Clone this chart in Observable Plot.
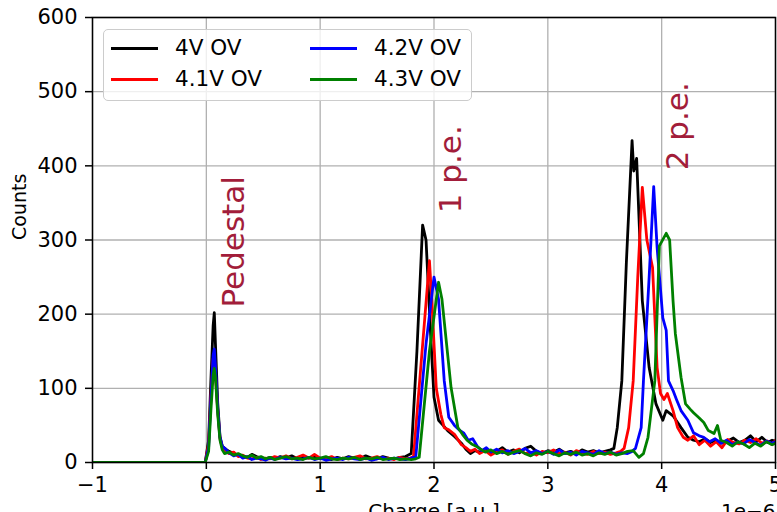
<!DOCTYPE html>
<html><head><meta charset="utf-8">
<script src="https://cdn.jsdelivr.net/npm/d3@7"></script>
<script src="https://cdn.jsdelivr.net/npm/@observablehq/plot@0.6"></script>
<style>
body{margin:0;background:#fff;overflow:hidden}
#wrap{position:relative;width:777px;height:512px;overflow:hidden}
.legend{position:absolute;left:103px;top:29px;width:369px;height:72px;background:rgba(255,255,255,0.8);border:1.3px solid #cccccc;border-radius:5px;box-sizing:border-box;font-family:"DejaVu Sans";font-size:21.5px;color:#000}
.item{position:absolute;height:26px;line-height:26px;white-space:nowrap}
.item .sw{position:absolute;left:0;top:11.5px;width:47px;height:3px}
.item .lb{position:absolute;left:64px;top:0}
</style>
</head><body>
<div id="wrap"></div>
<script>
// Series: [charge (×1e-6 a.u.), counts]
const ov40 = [[-1,0],[-0.01,0],[0.02,30],[0.04,110],[0.06,185],[0.07,202],[0.08,160],[0.10,80],[0.12,35],[0.14,22],[0.17,18],[0.2,15],[0.24,12],[0.28,10],[0.32,9],[0.36,7],[0.4,11],[0.44,8],[0.48,6],[0.52,5],[0.56,7],[0.6,5],[0.65,8],[0.7,6],[0.75,9],[0.8,5],[0.85,7],[0.9,6],[0.95,8],[1.0,5],[1.05,6],[1.1,4],[1.15,7],[1.2,5],[1.25,8],[1.3,6],[1.35,5],[1.4,9],[1.45,6],[1.5,5],[1.55,8],[1.6,6],[1.65,5],[1.7,7],[1.75,8],[1.8,12],[1.85,150],[1.9,320],[1.93,300],[1.97,174],[2.0,88],[2.04,57],[2.08,50],[2.12,43],[2.18,35],[2.24,26],[2.28,18],[2.32,12],[2.36,16],[2.4,14],[2.45,18],[2.5,12],[2.55,15],[2.6,20],[2.65,14],[2.7,17],[2.75,13],[2.8,19],[2.85,22],[2.9,15],[2.95,12],[3.0,16],[3.05,14],[3.1,18],[3.15,13],[3.2,15],[3.25,12],[3.3,17],[3.35,14],[3.4,16],[3.45,13],[3.5,15],[3.55,17],[3.58,19],[3.61,47],[3.65,110],[3.69,270],[3.74,434],[3.755,393],[3.78,410],[3.83,218],[3.89,128],[3.95,79],[4.01,57],[4.04,70],[4.1,63],[4.17,47],[4.23,34],[4.28,30],[4.33,28],[4.38,32],[4.43,27],[4.48,30],[4.53,26],[4.58,29],[4.63,33],[4.68,27],[4.73,30],[4.78,36],[4.83,28],[4.88,34],[4.93,27],[4.97,30],[5.0,29]];
const ov41 = [[-1,0],[-0.01,0],[0.02,25],[0.04,90],[0.06,140],[0.07,145],[0.08,120],[0.10,70],[0.12,32],[0.14,20],[0.17,16],[0.2,12],[0.24,14],[0.28,8],[0.32,10],[0.36,6],[0.4,5],[0.44,7],[0.48,4],[0.52,6],[0.56,5],[0.6,8],[0.65,6],[0.7,9],[0.75,5],[0.8,7],[0.85,10],[0.9,6],[0.95,11],[1.0,6],[1.05,5],[1.1,8],[1.15,4],[1.2,6],[1.25,5],[1.3,7],[1.35,9],[1.4,5],[1.45,6],[1.5,8],[1.55,5],[1.6,6],[1.65,4],[1.7,7],[1.75,5],[1.79,6],[1.82,8],[1.89,140],[1.96,272],[1.98,220],[2.02,100],[2.06,65],[2.09,47],[2.13,44],[2.18,38],[2.24,24],[2.28,20],[2.32,15],[2.36,18],[2.4,12],[2.45,16],[2.5,10],[2.55,14],[2.6,17],[2.65,11],[2.7,15],[2.75,18],[2.8,12],[2.85,14],[2.9,10],[2.95,15],[3.0,13],[3.05,17],[3.1,12],[3.15,14],[3.2,10],[3.25,16],[3.3,13],[3.35,11],[3.4,15],[3.45,12],[3.5,14],[3.55,11],[3.6,13],[3.64,15],[3.67,19],[3.71,47],[3.75,110],[3.79,250],[3.83,371],[3.87,300],[3.92,263],[3.96,128],[3.99,93],[4.02,85],[4.05,93],[4.1,70],[4.14,47],[4.19,34],[4.23,30],[4.28,36],[4.33,24],[4.38,30],[4.43,22],[4.48,28],[4.53,20],[4.58,31],[4.63,27],[4.68,25],[4.73,30],[4.78,27],[4.83,32],[4.88,26],[4.93,29],[4.97,24],[5.0,30]];
const ov42 = [[-1,0],[-0.01,0],[0.02,20],[0.04,85],[0.06,145],[0.07,153],[0.08,130],[0.10,72],[0.12,34],[0.14,22],[0.17,18],[0.2,13],[0.24,9],[0.28,11],[0.32,6],[0.36,8],[0.4,4],[0.44,6],[0.48,5],[0.52,3],[0.56,6],[0.6,4],[0.65,7],[0.7,5],[0.75,6],[0.8,4],[0.85,5],[0.9,7],[0.95,4],[1.0,6],[1.05,3],[1.1,5],[1.15,6],[1.2,4],[1.25,7],[1.3,5],[1.35,4],[1.4,6],[1.45,3],[1.5,5],[1.55,7],[1.6,4],[1.65,6],[1.7,5],[1.75,4],[1.8,6],[1.84,8],[1.93,160],[2.0,250],[2.04,220],[2.09,110],[2.13,61],[2.18,50],[2.22,44],[2.26,40],[2.3,30],[2.34,32],[2.38,22],[2.42,16],[2.46,20],[2.5,14],[2.55,18],[2.6,13],[2.65,16],[2.7,12],[2.75,15],[2.8,19],[2.85,13],[2.9,16],[2.95,12],[3.0,15],[3.05,11],[3.1,17],[3.15,12],[3.2,14],[3.25,10],[3.3,15],[3.35,13],[3.4,11],[3.45,16],[3.5,12],[3.55,14],[3.6,11],[3.65,13],[3.7,12],[3.74,15],[3.77,19],[3.82,47],[3.84,110],[3.89,250],[3.93,372],[3.96,290],[4.01,195],[4.04,178],[4.06,110],[4.1,97],[4.13,85],[4.17,70],[4.23,57],[4.28,40],[4.33,36],[4.37,34],[4.42,28],[4.47,32],[4.52,26],[4.57,30],[4.62,24],[4.67,28],[4.72,25],[4.77,31],[4.82,27],[4.87,23],[4.92,29],[4.97,26],[5.0,28]];
const ov43 = [[-1,0],[-0.01,0],[0.02,15],[0.04,70],[0.06,118],[0.07,127],[0.08,115],[0.10,65],[0.12,30],[0.14,17],[0.16,12],[0.2,14],[0.24,10],[0.28,12],[0.32,9],[0.36,7],[0.4,10],[0.44,6],[0.48,8],[0.52,5],[0.56,7],[0.6,4],[0.65,6],[0.7,8],[0.75,5],[0.8,6],[0.85,4],[0.9,7],[0.95,5],[1.0,6],[1.05,8],[1.1,5],[1.15,4],[1.2,6],[1.25,5],[1.3,7],[1.35,4],[1.4,6],[1.45,5],[1.5,7],[1.55,4],[1.6,5],[1.65,6],[1.7,4],[1.75,5],[1.8,4],[1.84,5],[1.87,7],[1.96,150],[2.04,243],[2.07,220],[2.15,101],[2.21,47],[2.25,38],[2.29,30],[2.33,25],[2.37,22],[2.41,18],[2.45,14],[2.5,17],[2.55,12],[2.6,15],[2.65,11],[2.7,14],[2.75,16],[2.8,12],[2.85,9],[2.9,13],[2.95,11],[3.0,15],[3.05,12],[3.1,9],[3.15,13],[3.2,11],[3.25,14],[3.3,10],[3.35,12],[3.4,9],[3.45,13],[3.5,11],[3.55,14],[3.6,10],[3.65,12],[3.7,15],[3.75,16],[3.8,7],[3.84,12],[3.88,34],[3.94,110],[3.98,292],[4.04,309],[4.07,300],[4.1,218],[4.12,174],[4.17,115],[4.21,79],[4.25,72],[4.28,67],[4.33,60],[4.37,54],[4.41,43],[4.46,39],[4.49,50],[4.52,30],[4.57,27],[4.62,22],[4.67,28],[4.72,25],[4.77,20],[4.82,26],[4.87,22],[4.92,28],[4.97,24],[5.0,26]];

const seriesNames = ["4V OV","4.1V OV","4.2V OV","4.3V OV"];
const seriesColors = ["#000000","#ff0000","#0000ff","#008000"];
const xTicks = [-1,0,1,2,3,4,5];
const yTicks = [0,100,200,300,400,500,600];
const peakLabels = ["Pedestal","1 p.e.","2 p.e."];
const peakLabelX = [0.245, 2.15, 4.14];
const peakLabelY = [209, 336, 394];

const rows = [ov40, ov41, ov42, ov43].flatMap((s, i) => s.map(([x, y]) => ({x, y, s: seriesNames[i]})));
const labels = peakLabels.map((t, i) => ({t, x: peakLabelX[i], y: peakLabelY[i]}));

const chart = Plot.plot({
  width: 777, height: 512,
  marginLeft: 92, marginRight: 2, marginTop: 17, marginBottom: 50,
  style: {fontFamily: "DejaVu Sans", fontSize: "21px", background: "white", color: "black"},
  x: {domain: [-1, 5]},
  y: {domain: [0, 600]},
  color: {domain: seriesNames, range: seriesColors},
  marks: [
    Plot.gridX(xTicks, {stroke: "#b0b0b0", strokeOpacity: 1, strokeWidth: 1.3}),
    Plot.gridY(yTicks, {stroke: "#b0b0b0", strokeOpacity: 1, strokeWidth: 1.3}),
    Plot.line(rows, {x: "x", y: "y", z: "s", stroke: "s", strokeWidth: 2.8, clip: true}),
    Plot.text(labels, {x: "x", y: "y", text: "t", rotate: -90, textAnchor: "start", fill: "#a21d3a", fontSize: 31, fontFamily: "DejaVu Sans"}),
    Plot.frame({stroke: "#000", strokeWidth: 1.5}),
    Plot.axisX(xTicks, {tickSize: 7, tickPadding: 8, strokeWidth: 1.5, label: null, tickFormat: d3.format("d")}),
    Plot.axisY(yTicks, {tickSize: 7, tickPadding: 8, strokeWidth: 1.5, label: null, tickFormat: d3.format("d")}),
    Plot.text(["Counts"], {frameAnchor: "left", dx: -73, rotate: -90, fontSize: 19}),
    Plot.text(["Charge [a.u.]"], {frameAnchor: "bottom", dy: 41, lineAnchor: "top", fontSize: 20}),
    Plot.text(["1e\u22126"], {frameAnchor: "bottom-right", dy: 41, lineAnchor: "top", textAnchor: "end", fontSize: 20})
  ]
});
const wrap = document.getElementById("wrap");
wrap.appendChild(chart);

const legend = document.createElement("div");
legend.className = "legend";
seriesNames.forEach((name, i) => {
  const col = Math.floor(i / 2), row = i % 2;
  const item = document.createElement("div");
  item.className = "item";
  item.style.left = (col === 0 ? 7 : 206) + "px";
  item.style.top = (row === 0 ? 5 : 36) + "px";
  const sw = document.createElement("div");
  sw.className = "sw";
  sw.style.background = seriesColors[i];
  const lb = document.createElement("span");
  lb.className = "lb";
  lb.textContent = name;
  item.appendChild(sw); item.appendChild(lb);
  legend.appendChild(item);
});
wrap.appendChild(legend);
</script>
</body></html>
